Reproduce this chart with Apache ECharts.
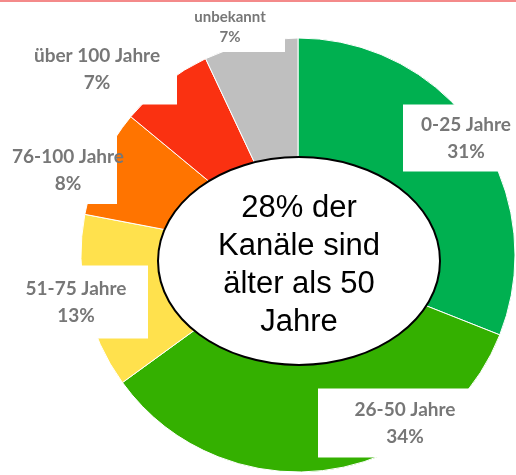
<!DOCTYPE html>
<html>
<head>
<meta charset="utf-8">
<script src="https://cdn.jsdelivr.net/npm/echarts@6/dist/echarts.min.js"></script>
<style>html,body{margin:0;padding:0;background:#fff;}#c{width:516px;height:475px;}</style>
</head>
<body>
<div id="c"></div>
<script>
// Data
const categories = ['0-25 Jahre', '26-50 Jahre', '51-75 Jahre', '76-100 Jahre', 'über 100 Jahre', 'unbekannt'];
const values = [31, 34, 13, 8, 7, 7];
const colors = ['#00b050', '#34b000', '#ffe14d', '#ff7400', '#fa3111', '#bfbfbf'];
const centerText = '28% der\nKanäle sind\nälter als 50\nJahre';

// Label box layout (styling only): [centerX, centerY, width, height]
const labelBoxes = [
  [466, 138, 126, 67],
  [405, 423, 174, 69],
  [76, 302, 144, 73],
  [68, 170, 98, 68],
  [97, 69, 160, 71],
  [230, 27, 110, 50]
];

const chart = echarts.init(document.getElementById('c'), null, {renderer: 'canvas'});
const data = categories.map((n, i) => {
  const small = i === 5;
  const b = labelBoxes[i];
  const lh = small ? 20 : 27;
  return {
    name: n,
    value: values[i],
    itemStyle: {color: colors[i]},
    label: {
      width: b[2],
      padding: [(b[3] - 2 * lh) / 2, 0],
      rich: {
        t: {fontSize: small ? 15 : 19, lineHeight: lh, fontWeight: 'bold', color: '#777777', fontFamily: 'Lato', align: 'center'}
      }
    }
  };
});

chart.setOption({
  animation: false,
  graphic: [
    {type: 'rect', shape: {x: 0, y: 0, width: 516, height: 2}, style: {fill: '#f48a8a'}, z: 10},
    {type: 'ellipse', shape: {cx: 299, cy: 261, rx: 141, ry: 104}, style: {fill: '#fff', stroke: '#000', lineWidth: 2}, z: 100},
    {type: 'text', x: 299, y: 265, z: 101, style: {text: centerText, font: '31px "Liberation Sans", Arial', fill: '#000', align: 'center', verticalAlign: 'middle', lineHeight: 38}}
  ],
  series: [{
    type: 'pie',
    center: [298, 255],
    radius: [95, 217],
    startAngle: 90,
    clockwise: true,
    avoidLabelOverlap: false,
    itemStyle: {borderColor: '#fff', borderWidth: 1},
    label: {
      show: true,
      position: 'outside',
      backgroundColor: '#fff',
      align: 'center',
      verticalAlign: 'middle',
      overflow: 'none',
      formatter: p => '{t|' + p.name + '}\n{t|' + p.value + '%}'
    },
    labelLine: {show: false},
    labelLayout: function (params) {
      const b = labelBoxes[params.dataIndex];
      return {x: b[0], y: b[1], align: 'center', verticalAlign: 'middle', hideOverlap: false};
    },
    data: data
  }]
});
</script>
</body>
</html>
